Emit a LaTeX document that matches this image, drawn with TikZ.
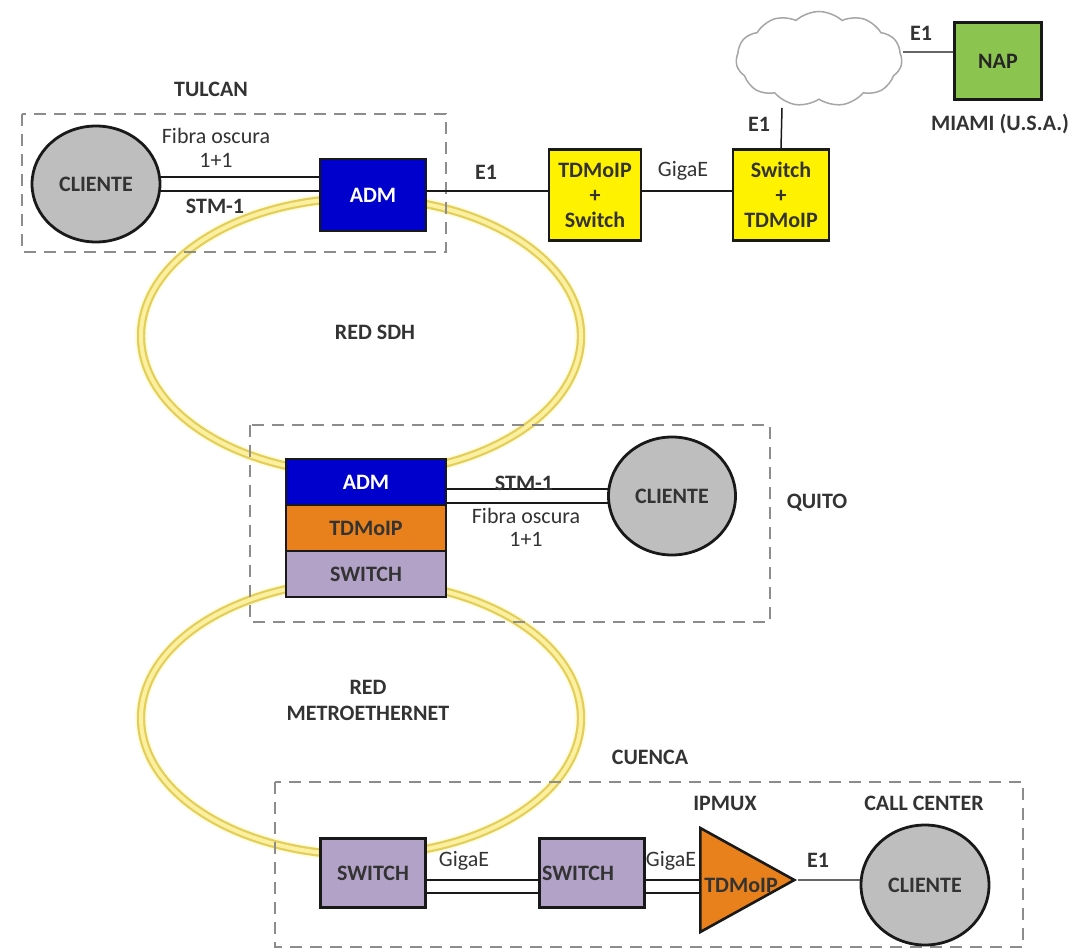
\documentclass[tikz,border=0pt]{standalone}
\usepackage{fontspec}
\setmainfont{Carlito}
\usetikzlibrary{shapes.geometric,shapes.symbols}
\definecolor{ringgold}{RGB}{228,206,90}
\definecolor{ringpale}{RGB}{250,240,160}
\definecolor{ringglow}{RGB}{254,252,225}
\definecolor{admblue}{RGB}{0,0,204}
\definecolor{tdmorange}{RGB}{232,128,28}
\definecolor{swpurple}{RGB}{178,162,199}
\definecolor{cligray}{RGB}{190,190,190}
\definecolor{napgreen}{RGB}{140,196,80}
\tikzset{
  ringglowline/.style={draw=ringglow,line width=12pt},
  ringline/.style={draw=ringgold,line width=2.2pt,double=ringpale,double distance=4pt},
  zoneline/.style={draw=black!45,line width=2.4pt,dash pattern=on 12pt off 8pt},
  boxnode/.style={draw=black!90,line width=2.6pt,inner sep=0pt,align=center,font=\fontsize{22}{25}\selectfont\bfseries,text=black!80},
  clientnode/.style={ellipse,draw=black!90,line width=2.8pt,fill=cligray,inner sep=0pt,font=\fontsize{22}{20}\selectfont\bfseries,text=black!80},
  boldtxt/.style={font=\fontsize{22}{20}\selectfont\bfseries,text=black!80,inner sep=0pt},
  thintxt/.style={font=\fontsize{22}{20}\selectfont,text=black!80,inner sep=0pt},
  wire/.style={draw=black!90,line width=1.5pt}
}
\begin{document}
\begin{tikzpicture}[x=1pt,y=-1pt]
\useasboundingbox (0,0) rectangle (1081,952);
% rings
\draw[ringglowline] (361,336) ellipse [x radius=220pt,y radius=138pt];
\draw[ringglowline] (361,718) ellipse [x radius=220pt,y radius=137pt];
\draw[ringline] (361,336) ellipse [x radius=220pt,y radius=138pt];
\draw[ringline] (361,718) ellipse [x radius=220pt,y radius=137pt];
% zones
\draw[zoneline] (22,114) rectangle (446,252);
\draw[zoneline] (250,425) rectangle (770,622);
\draw[zoneline] (275,782) rectangle (1023,947);
% tulcan
\node[clientnode,minimum width=128pt,minimum height=116pt] (cliT) at (96,184) {CLIENTE};
\node[boxnode,fill=admblue,text=white,minimum width=106pt,minimum height=72pt] (admT) at (373,195) {ADM};
% miami branch
\node[boxnode,fill=yellow,minimum width=92pt,minimum height=91pt] (tdmA) at (595,195) {TDMoIP\\+\\Switch};
\node[boxnode,fill=yellow,minimum width=96pt,minimum height=91pt] (swB) at (781,195) {Switch\\+\\TDMoIP};
\node[cloud,cloud puffs=11,cloud puff arc=85,aspect=1.75,draw=black!35,line width=1.5pt,fill=white,minimum width=166pt,minimum height=95pt,inner sep=0pt] (nube) at (819,59) {};
\node[boxnode,fill=napgreen,minimum width=87pt,minimum height=77pt,text=black!85] (nap) at (998,61) {NAP};
\coordinate (nubeS) at (782,108);
\coordinate (nubeE) at (903,52);
% quito
\node[boxnode,fill=admblue,text=white,minimum width=160pt,minimum height=46pt] (admQ) at (366,482) {ADM};
\node[boxnode,fill=tdmorange,minimum width=160pt,minimum height=46pt] (tdmQ) at (366,528) {TDMoIP};
\node[boxnode,fill=swpurple,minimum width=160pt,minimum height=46pt] (swQ) at (366,574) {SWITCH};
\node[clientnode,minimum width=127pt,minimum height=118pt] (cliQ) at (672,496) {CLIENTE};
% cuenca
\node[boxnode,fill=swpurple,minimum width=105pt,minimum height=69pt] (swC) at (373,873) {SWITCH};
\node[boxnode,fill=swpurple,minimum width=105pt,minimum height=69pt] (swD) at (592,873) {\hspace*{-28pt}SWITCH};
\node[isosceles triangle,isosceles triangle stretches,draw=black!90,line width=2.6pt,fill=tdmorange,inner sep=0pt,minimum height=94pt,minimum width=104pt,anchor=lower side] (ipmux) at (699,880) {};
\node[boldtxt] (ipmuxT) at (741,885) {TDMoIP};
\node[clientnode,minimum width=128pt,minimum height=120pt] (cliC) at (925,885) {CLIENTE};
% wires
\draw[wire] (cliT.6) -- (cliT.6 -| admT.west);
\draw[wire] (cliT.-6) -- (cliT.-6 -| admT.west);
\draw[wire] (admT.east |- cliT.-6) -- (tdmA.west |- cliT.-6);
\draw[wire] (tdmA.east |- cliT.-6) -- (swB.west |- cliT.-6);
\draw[wire] (swB.north) -- (nubeS);
\draw[wire,draw=black!60,line width=2pt] (nubeE) -- (nubeE -| nap.west);
\draw[wire] (cliQ.174) -- (cliQ.174 -| admQ.east);
\draw[wire] (cliQ.-174) -- (cliQ.-174 -| admQ.east);
\draw[wire] (swC.east |- ipmux.apex) -- (swD.west |- ipmux.apex);
\draw[wire] ([yshift=-13pt]swC.east |- ipmux.apex) -- ([yshift=-13pt]swD.west |- ipmux.apex);
\draw[wire] (swD.east |- ipmux.apex) -- (ipmux.lower side |- ipmux.apex);
\draw[wire] ([yshift=-13pt]swD.east |- ipmux.apex) -- ([yshift=-13pt]ipmux.lower side |- ipmux.apex);
\draw[wire,draw=black!60] (ipmux.apex) -- (cliC.west |- ipmux.apex);
% labels
\node[boldtxt] (tTul) at (211,89) {TULCAN};
\node[thintxt] (tFibA) at (216,136) {Fibra oscura};
\node[thintxt] (tUnoA) at (216,160) {1+1};
\node[boldtxt] (tStmA) at (215,206) {STM-1};
\node[boldtxt] (tEa) at (486,172) {E1};
\node[thintxt] (tGigA) at (683,171) {GigaE};
\node[boldtxt] (tEb) at (759,124) {E1};
\node[boldtxt] (tEc) at (921,33) {E1};
\node[boldtxt] (tMia) at (1000,124) {MIAMI (U.S.A.)};
\node[boldtxt] (tSdh) at (375,332) {RED SDH};
\node[boldtxt] (tStmB) at (524,483) {STM-1};
\node[thintxt] (tFibB) at (526,516) {Fibra oscura};
\node[thintxt] (tUnoB) at (526,539) {1+1};
\node[boldtxt] (tQui) at (817,503) {QUITO};
\node[boldtxt] (tRed) at (368,687) {RED};
\node[boldtxt] (tMet) at (368,713) {METROETHERNET};
\node[boldtxt] (tCue) at (650,757) {CUENCA};
\node[boldtxt] (tMux) at (725,803) {IPMUX};
\node[boldtxt] (tCall) at (924,803) {CALL CENTER};
\node[thintxt] (tGigB) at (464,861) {GigaE};
\node[thintxt] (tGigC) at (671,861) {GigaE};
\node[boldtxt] (tEd) at (818,860) {E1};
\end{tikzpicture}
\end{document}
